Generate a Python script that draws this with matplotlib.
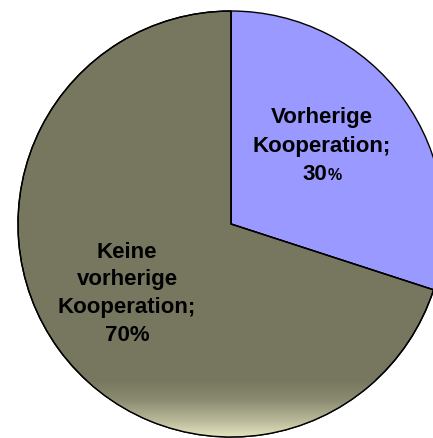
import numpy as np
import matplotlib
matplotlib.use('Agg')
import matplotlib.pyplot as plt
from matplotlib.patches import Wedge
from matplotlib.colors import LinearSegmentedColormap

shares = [30, 70]
colors = ['#9999FF', '#777760']
label_small = ['Vorherige', 'Kooperation;']
label_big = ['Keine', 'vorherige', 'Kooperation;', '70%']
pct_small = '30'

plt.rcParams['font.family'] = ['Liberation Sans', 'DejaVu Sans']

W, H = 433, 438
fig = plt.figure(figsize=(W / 100, H / 100), dpi=100)
ax = fig.add_axes([0, 0, 1, 1])

cx, cy, r = 231, H - 224, 213
wedges, _ = ax.pie(shares, colors=colors, startangle=90, counterclock=False,
                   center=(cx, cy), radius=r, frame=True,
                   wedgeprops=dict(edgecolor='black', linewidth=1.0))
ax.set_xlim(0, W)
ax.set_ylim(0, H)
ax.set_aspect('equal')
ax.axis('off')

# light gradient at the bottom of the big slice
cmap = LinearSegmentedColormap.from_list('g', ['#E8E8C2', '#B4B496', '#8A8A70', '#777760'])
grad = np.linspace(0, 1, 256).reshape(-1, 1)
img = ax.imshow(grad, cmap=cmap, extent=(0, W, 0, 58), origin='lower',
                aspect='auto', zorder=2)
img.set_clip_path(wedges[1])
ax.add_patch(Wedge((cx, cy), r, -270, -18, facecolor='none',
                   edgecolor='black', linewidth=1.0, zorder=5))

fs = 16
kw = dict(fontsize=fs, fontweight='bold', zorder=6, va='baseline')
for i, s in enumerate(label_small):
    ax.text(322, H - (123.5 + 28.2 * i), s, ha='center', **kw)
ax.text(327, H - 180, pct_small, ha='right', **kw)
ax.text(327.5, H - 180, '%', ha='left', fontsize=fs * 0.72,
        fontweight='bold', zorder=6, va='baseline')
for i, s in enumerate(label_big):
    ax.text(127, H - (257.5 + 27.8 * i), s, ha='center', **kw)

fig.savefig('out.png', dpi=100)
